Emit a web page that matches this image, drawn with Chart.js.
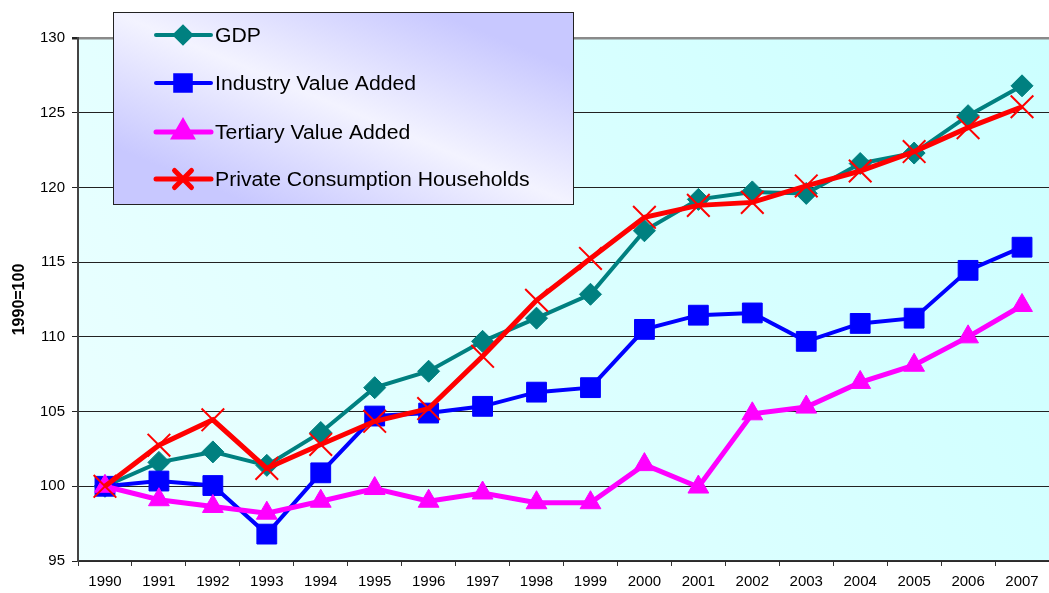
<!DOCTYPE html>
<html>
<head>
<meta charset="utf-8">
<script src="https://cdn.jsdelivr.net/npm/chart.js@4"></script>
<style>
  html, body { margin: 0; padding: 0; background: #fff; overflow: hidden; }
  #wrap { width: 1049px; height: 593px; position: relative; }
  canvas { display: block; }
</style>
</head>
<body>
<div id="wrap"><canvas id="indexChart" width="1049" height="593"></canvas></div>
<script>
// index values, 1990 = 100
const years = ['1990', '1991', '1992', '1993', '1994', '1995', '1996', '1997', '1998',
    '1999', '2000', '2001', '2002', '2003', '2004', '2005', '2006', '2007'];
const gdp = [100, 101.6, 102.3, 101.4, 103.6, 106.6, 107.7, 109.7, 111.25,
    112.85, 117.1, 119.2, 119.7, 119.6, 121.6, 122.3, 124.8, 126.8];
const industry = [100, 100.35, 100.05, 96.8, 100.9, 104.7, 104.9, 105.35, 106.3,
    106.6, 110.5, 111.45, 111.6, 109.7, 110.9, 111.25, 114.45, 116.0];
const tertiary = [100, 99.1, 98.65, 98.2, 99.0, 99.85, 99.0, 99.55, 98.9,
    98.9, 101.45, 99.95, 104.85, 105.3, 106.95, 108.1, 110.0, 112.1];
const consumption = [100, 102.75, 104.45, 101.2, 102.8, 104.35, 105.2, 108.7, 112.45,
    115.25, 118.0, 118.8, 119.0, 120.1, 121.1, 122.4, 124.0, 125.4];
const yTicks = [95, 100, 105, 110, 115, 120, 125, 130];

const FONT = "'Liberation Sans', Arial, sans-serif";

// light cyan fill behind the plot
const plotBackground = {
    id: 'plotBackground',
    beforeDraw(chart) {
        const { ctx, chartArea: a } = chart;
        const g = ctx.createLinearGradient(a.right, a.top, a.left, a.bottom);
        g.addColorStop(0, '#ccffff');
        g.addColorStop(1, '#ebffff');
        ctx.save();
        ctx.fillStyle = g;
        ctx.fillRect(a.left, a.top, a.right - a.left, a.bottom - a.top);
        ctx.restore();
    }
};

// boxed legend sitting over the top-left of the plot
const boxLegend = {
    id: 'boxLegend',
    afterDraw(chart) {
        const ctx = chart.ctx;
        const x0 = 113, y0 = 12, x1 = 573, y1 = 204;
        ctx.save();
        const g = ctx.createLinearGradient(295, 223, 391, -7);
        g.addColorStop(0, '#c8c8ff');
        g.addColorStop(0.5, '#f3f3ff');
        g.addColorStop(1, '#c8c8ff');
        ctx.fillStyle = g;
        ctx.fillRect(x0, y0, x1 - x0, y1 - y0);
        ctx.strokeStyle = '#222';
        ctx.lineWidth = 1;
        ctx.strokeRect(x0 + 0.5, y0 + 0.5, x1 - x0, y1 - y0);

        const rows = [35, 83, 132, 179];
        chart.data.datasets.forEach((ds, i) => {
            const y = rows[i];
            ctx.strokeStyle = ds.borderColor;
            ctx.lineWidth = ds.borderWidth;
            ctx.lineCap = 'round';
            ctx.beginPath();
            ctx.moveTo(156, y);
            ctx.lineTo(211, y);
            ctx.stroke();
            ctx.fillStyle = ds.pointBackgroundColor;
            ctx.strokeStyle = ds.pointBorderColor;
            Chart.helpers.drawPoint(ctx, {
                pointStyle: ds.pointStyle,
                radius: ds.legendRadius,
                rotation: 0,
                borderWidth: ds.pointBorderWidth
            }, 183, y);
            // the original text is a little wider than Arial
            ctx.save();
            ctx.translate(215, y + 1);
            ctx.scale(1.06, 1);
            ctx.fillStyle = '#000';
            ctx.font = '20px ' + FONT;
            ctx.textBaseline = 'middle';
            ctx.fillText(ds.label, 0, 0);
            ctx.restore();
        });
        ctx.restore();
    }
};

function series(label, data, color, style, radius, legendRadius, width, order) {
    const cross = style === 'crossRot';
    return {
        label: label,
        data: data,
        borderColor: color,
        backgroundColor: color,
        borderWidth: width,
        pointStyle: style,
        pointRadius: radius,
        pointHoverRadius: radius,
        legendRadius: legendRadius,
        pointBackgroundColor: color,
        pointBorderColor: color,
        pointBorderWidth: cross ? 2 : 1,
        tension: 0,
        clip: false,
        order: order
    };
}

const ctx = document.getElementById('indexChart').getContext('2d');
new Chart(ctx, {
    type: 'line',
    data: {
        labels: years,
        datasets: [
            series('GDP', gdp, '#008080', 'rectRot', 11, 8, 4, 4),
            series('Industry Value Added', industry, '#0000ff', 'rect', 14, 11, 4, 3),
            series('Tertiary Value Added', tertiary, '#ff00ff', 'triangle', 12, 10, 5, 2),
            series('Private Consumption Households', consumption, '#ff0000', 'crossRot', 16, 12, 5, 1)
        ]
    },
    options: {
        responsive: false,
        animation: false,
        devicePixelRatio: 1,
        layout: { autoPadding: false, padding: { top: 38, right: -3, bottom: 0, left: 0 } },
        plugins: {
            legend: { display: false },
            tooltip: { enabled: false }
        },
        scales: {
            x: {
                offset: true,
                grid: {
                    offset: true,
                    drawOnChartArea: false,
                    drawTicks: true,
                    tickLength: 5,
                    color: '#333'
                },
                border: { color: '#333', width: 1.5 },
                ticks: {
                    color: '#000',
                    font: { family: FONT, size: 15 },
                    padding: 7,
                    maxRotation: 0,
                    autoSkip: false
                },
                afterFit(scale) {
                    scale.height = 32;
                    scale.paddingLeft = 0;
                    scale.paddingRight = 0;
                }
            },
            y: {
                min: 95,
                max: 130,
                afterBuildTicks(scale) {
                    scale.ticks = yTicks.map(v => ({ value: v }));
                },
                grid: {
                    color: ctx => ctx.tick && ctx.tick.value === 130 ? '#8a8a8a' : '#222',
                    lineWidth: ctx => ctx.tick && ctx.tick.value === 130 ? 2.5 : 1,
                    drawTicks: true,
                    tickLength: 6,
                    tickColor: '#222'
                },
                border: { color: '#444', width: 2 },
                ticks: {
                    color: '#000',
                    font: { family: FONT, size: 15 },
                    padding: 7,
                    autoSkip: false
                },
                title: {
                    display: true,
                    text: '1990=100',
                    color: '#000',
                    font: { family: FONT, size: 16, weight: 'bold' },
                    padding: { top: 10, bottom: 0 }
                },
                afterFit(scale) { scale.width = 78; }
            }
        }
    },
    plugins: [plotBackground, boxLegend]
});
</script>
</body>
</html>
